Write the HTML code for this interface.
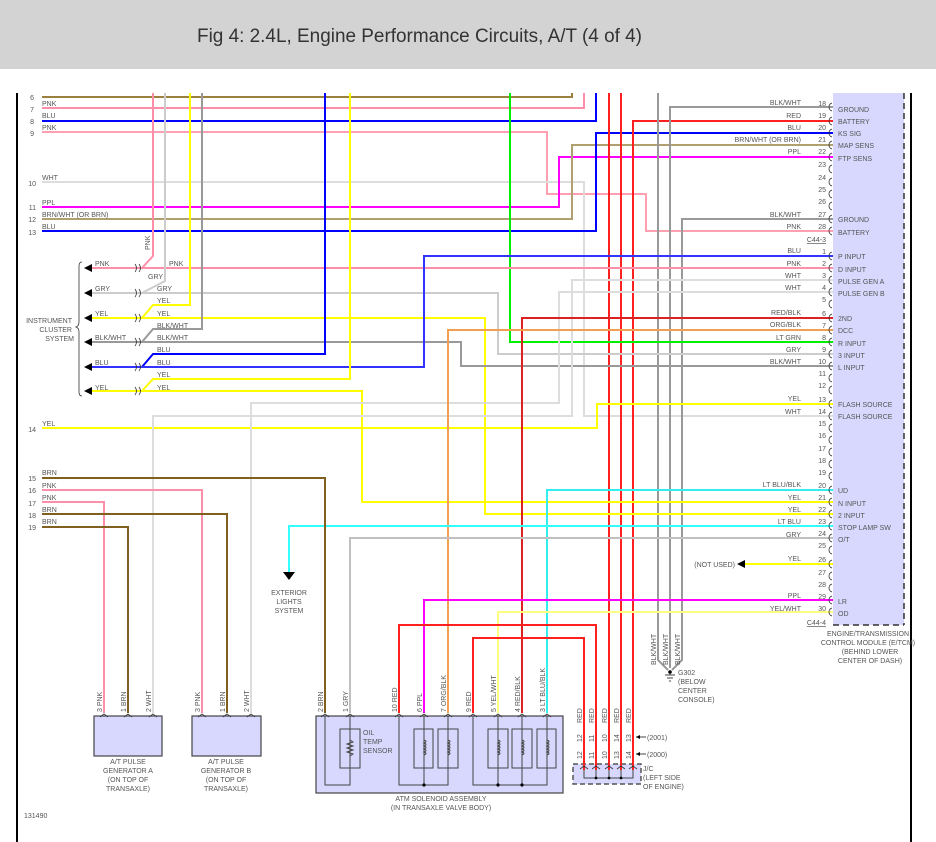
<!DOCTYPE html>
<html><head><meta charset="utf-8"><style>
html,body{margin:0;padding:0;background:#fff;}
svg{display:block;font-family:"Liberation Sans",sans-serif;}
.t{font-size:7px;fill:#555;}
.w{fill:none;stroke-width:2;}
</style></head><body>
<svg width="936" height="842" viewBox="0 0 936 842" xmlns="http://www.w3.org/2000/svg">
<rect x="0" y="0" width="936" height="69" fill="#d3d3d3"/>
<text x="197" y="42" font-size="19" fill="#333" textLength="445" lengthAdjust="spacingAndGlyphs">Fig 4: 2.4L, Engine Performance Circuits, A/T (4 of 4)</text>
<line x1="17" y1="93" x2="17" y2="842" stroke="#000" stroke-width="2"/>
<line x1="911" y1="93" x2="911" y2="842" stroke="#000" stroke-width="2"/>
<rect x="833" y="93" width="71" height="532" fill="#d8d8ff"/>
<line x1="904" y1="93" x2="904" y2="625" stroke="#333" stroke-width="1.5" stroke-dasharray="6,4"/>
<line x1="833" y1="625" x2="904" y2="625" stroke="#333" stroke-width="1.5" stroke-dasharray="6,4"/>
<rect x="316" y="716" width="247" height="77" fill="#d8d8ff" stroke="#444" stroke-width="1.2"/>
<rect x="94" y="716" width="68" height="40" fill="#d8d8ff" stroke="#444" stroke-width="1.2"/>
<rect x="192" y="716" width="69" height="40" fill="#d8d8ff" stroke="#444" stroke-width="1.2"/>
<rect x="573" y="764" width="68" height="20" fill="#d8d8ff" stroke="#555" stroke-width="1.5" stroke-dasharray="5,3"/>

<g class="w">
<polyline stroke="#9c8040" points="42,97 572,97 572,93"/>
<polyline stroke="#ff8fa8" points="42,108 584,108 584,93"/>
<polyline stroke="#0000ff" points="42,121 596,121 596,93"/>
<polyline stroke="#ff9fb0" points="42,132 547,132 547,194 646,194 646,231 833,231"/>
<polyline stroke="#dddddd" points="42,182 584,182 584,416 833,416"/>
<polyline stroke="#ff00ff" points="42,207 559,207 559,157 833,157"/>
<polyline stroke="#b0a070" points="42,219 572,219 572,145 833,145"/>
<polyline stroke="#0000ff" points="42,231 596,231 596,133 833,133"/>
<polyline stroke="#ff2020" points="633,770 633,121 833,121"/>
<polyline stroke="#ff2020" points="609,93 609,770"/>
<polyline stroke="#ff2020" points="621,93 621,770"/>
<polyline stroke="#999" points="658,93 658,660 668,670"/>
<polyline stroke="#999" points="833,107 670,107 670,668"/>
<polyline stroke="#999" points="833,219 682,219 682,660 672,670"/>
<polyline stroke="#00ee00" points="510,93 510,342 833,342"/>
<polyline stroke="#ff8fa8" points="153,93 153,256 142,268"/>
<polyline stroke="#ff8fa8" points="92,268 833,268"/>
<polyline stroke="#cccccc" points="165,93 165,281 142,293"/>
<polyline stroke="#cccccc" points="92,293 498,293 498,354 833,354"/>
<polyline stroke="#ffff00" points="190,93 190,305 153,305 142,318"/>
<polyline stroke="#ffff00" points="92,318 485,318 485,514 833,514"/>
<polyline stroke="#999" points="202,93 202,329 153,329 142,342"/>
<polyline stroke="#999" points="92,342 461,342 461,366 833,366"/>
<polyline stroke="#0000ff" points="325,93 325,354 153,354 142,367"/>
<polyline stroke="#3333ff" points="92,367 424,367 424,256 833,256"/>
<polyline stroke="#ffff00" points="350,93 350,379 153,379 142,391"/>
<polyline stroke="#ffff00" points="92,391 362,391 362,502 833,502"/>
<polyline stroke="#ffff00" points="42,428 597,428 597,404 833,404"/>
<polyline stroke="#dddddd" points="833,280 572,280 572,416 153,416 153,713"/>
<polyline stroke="#dddddd" points="833,292 559,292 559,403 251,403 251,713"/>
<polyline stroke="#dd2020" points="833,318 522,318 522,713"/>
<polyline stroke="#f0a050" points="833,330 448,330 448,713"/>
<polyline stroke="#33eeee" points="833,490 547,490 547,713"/>
<polyline stroke="#33ffff" points="833,526 289,526 289,572"/>
<polyline stroke="#c0c0c0" points="833,538 350,538 350,713"/>
<polyline stroke="#ffff00" points="833,564 745,564"/>
<polyline stroke="#ff00ff" points="833,600 424,600 424,713"/>
<polyline stroke="#ffff80" points="833,612 498,612 498,713"/>
<polyline stroke="#ff2020" points="399,713 399,625 596,625 596,770"/>
<polyline stroke="#ff2020" points="473,713 473,638 584,638 584,770"/>
<polyline stroke="#806020" points="42,478 325,478 325,713"/>
<polyline stroke="#ff8fa8" points="42,490 202,490 202,713"/>
<polyline stroke="#ff8fa8" points="42,502 104,502 104,713"/>
<polyline stroke="#806020" points="42,514 227,514 227,713"/>
<polyline stroke="#806020" points="42,527 128,527 128,713"/>
</g>
<g fill="#000">
<polygon points="283,572 295,572 289,580"/>
<polygon points="737,564 745,560 745,568"/>
<polygon points="84,268 92,264 92,272"/><polygon points="84,293 92,289 92,297"/><polygon points="84,318 92,314 92,322"/>
<polygon points="84,342 92,338 92,346"/><polygon points="84,367 92,363 92,371"/><polygon points="84,391 92,387 92,395"/>
</g>
<g fill="none" stroke="#333" stroke-width="0.8">
<path d="M135,264 q3,4 0,8 M139,264 q3,4 0,8 M135,289 q3,4 0,8 M139,289 q3,4 0,8 M135,314 q3,4 0,8 M139,314 q3,4 0,8 M135,338 q3,4 0,8 M139,338 q3,4 0,8 M135,363 q3,4 0,8 M139,363 q3,4 0,8 M135,387 q3,4 0,8 M139,387 q3,4 0,8"/>
<path d="M82,262 q-3,0 -3,4 v56 q0,4 -3,5 q3,1 3,5 v60 q0,4 3,4"/>
<path d="M832,103 q-3,1 -3,4 q0,3 3,4 M832,117 q-3,1 -3,4 q0,3 3,4 M832,129 q-3,1 -3,4 q0,3 3,4 M832,141 q-3,1 -3,4 q0,3 3,4 M832,153 q-3,1 -3,4 q0,3 3,4 M832,165 q-3,1 -3,4 q0,3 3,4 M832,178 q-3,1 -3,4 q0,3 3,4 M832,190 q-3,1 -3,4 q0,3 3,4 M832,202 q-3,1 -3,4 q0,3 3,4 M832,215 q-3,1 -3,4 q0,3 3,4 M832,227 q-3,1 -3,4 q0,3 3,4"/>
<path d="M832,252 q-3,1 -3,4 q0,3 3,4 M832,264 q-3,1 -3,4 q0,3 3,4 M832,276 q-3,1 -3,4 q0,3 3,4 M832,288 q-3,1 -3,4 q0,3 3,4 M832,300 q-3,1 -3,4 q0,3 3,4 M832,314 q-3,1 -3,4 q0,3 3,4 M832,326 q-3,1 -3,4 q0,3 3,4 M832,338 q-3,1 -3,4 q0,3 3,4 M832,350 q-3,1 -3,4 q0,3 3,4 M832,362 q-3,1 -3,4 q0,3 3,4 M832,374 q-3,1 -3,4 q0,3 3,4 M832,386 q-3,1 -3,4 q0,3 3,4 M832,400 q-3,1 -3,4 q0,3 3,4 M832,412 q-3,1 -3,4 q0,3 3,4 M832,424 q-3,1 -3,4 q0,3 3,4 M832,436 q-3,1 -3,4 q0,3 3,4 M832,448 q-3,1 -3,4 q0,3 3,4 M832,460 q-3,1 -3,4 q0,3 3,4 M832,472 q-3,1 -3,4 q0,3 3,4 M832,486 q-3,1 -3,4 q0,3 3,4 M832,498 q-3,1 -3,4 q0,3 3,4 M832,510 q-3,1 -3,4 q0,3 3,4 M832,522 q-3,1 -3,4 q0,3 3,4 M832,534 q-3,1 -3,4 q0,3 3,4 M832,546 q-3,1 -3,4 q0,3 3,4 M832,560 q-3,1 -3,4 q0,3 3,4 M832,572 q-3,1 -3,4 q0,3 3,4 M832,584 q-3,1 -3,4 q0,3 3,4 M832,596 q-3,1 -3,4 q0,3 3,4 M832,608 q-3,1 -3,4 q0,3 3,4"/>
<path d="M100,717 l4,-3 l4,3 M124,717 l4,-3 l4,3 M149,717 l4,-3 l4,3 M198,717 l4,-3 l4,3 M223,717 l4,-3 l4,3 M247,717 l4,-3 l4,3 M321,717 l4,-3 l4,3 M346,717 l4,-3 l4,3 M395,717 l4,-3 l4,3 M420,717 l4,-3 l4,3 M444,717 l4,-3 l4,3 M469,717 l4,-3 l4,3 M494,717 l4,-3 l4,3 M518,717 l4,-3 l4,3 M543,717 l4,-3 l4,3 M580,769 l4,-3 l4,3 M592,769 l4,-3 l4,3 M605,769 l4,-3 l4,3 M617,769 l4,-3 l4,3 M629,769 l4,-3 l4,3"/>
</g>
<g fill="none" stroke="#444" stroke-width="1">
<rect x="340" y="729" width="20" height="39"/>
<rect x="414" y="729" width="19" height="39"/><rect x="438" y="729" width="20" height="39"/>
<rect x="488" y="729" width="20" height="39"/><rect x="512" y="729" width="20" height="39"/><rect x="537" y="729" width="19" height="39"/>
<polyline points="325,716 325,785 350,785 350,716"/>
<polyline points="399,716 399,785 448,785 448,716"/>
<line x1="424" y1="716" x2="424" y2="785"/>
<polyline points="473,716 473,785 547,785 547,716"/>
<line x1="498" y1="716" x2="498" y2="785"/><line x1="522" y1="716" x2="522" y2="785"/>
<path d="M350,740 l3,2 l-6,2 l6,2 l-6,2 l6,2 l-6,2 l6,2 l-3,2"/>
<path d="M424,740 q4,1.5 0,3 q4,1.5 0,3 q4,1.5 0,3 q4,1.5 0,3 q4,1.5 0,3 M448,740 q4,1.5 0,3 q4,1.5 0,3 q4,1.5 0,3 q4,1.5 0,3 q4,1.5 0,3 M498,740 q4,1.5 0,3 q4,1.5 0,3 q4,1.5 0,3 q4,1.5 0,3 q4,1.5 0,3 M522,740 q4,1.5 0,3 q4,1.5 0,3 q4,1.5 0,3 q4,1.5 0,3 q4,1.5 0,3 M547,740 q4,1.5 0,3 q4,1.5 0,3 q4,1.5 0,3 q4,1.5 0,3 q4,1.5 0,3"/>
<polyline points="584,770 584,778 633,778 633,770"/>
<line x1="596" y1="770" x2="596" y2="778"/><line x1="609" y1="770" x2="609" y2="778"/><line x1="621" y1="770" x2="621" y2="778"/>
<path d="M665,675 h10 M667,678 h6 M669,681 h2"/>
<path d="M670,672 v3"/>
<path d="M636,737 h10 M636,754 h10"/>
</g>
<g fill="#000"><circle cx="424" cy="785" r="1.6"/><circle cx="498" cy="785" r="1.6"/><circle cx="522" cy="785" r="1.6"/><circle cx="596" cy="778" r="1.4"/><circle cx="609" cy="778" r="1.4"/><circle cx="621" cy="778" r="1.4"/><circle cx="670" cy="672" r="1.8"/>
<polygon points="636,737 640,735 640,739"/><polygon points="636,754 640,752 640,756"/></g>

<g class="t">
<text x="34" y="100" text-anchor="end">6</text><text x="34" y="112" text-anchor="end">7</text><text x="34" y="124" text-anchor="end">8</text><text x="34" y="136" text-anchor="end">9</text><text x="36" y="186" text-anchor="end">10</text><text x="36" y="210" text-anchor="end">11</text><text x="36" y="222" text-anchor="end">12</text><text x="36" y="235" text-anchor="end">13</text><text x="36" y="432" text-anchor="end">14</text><text x="36" y="481" text-anchor="end">15</text><text x="36" y="493" text-anchor="end">16</text><text x="36" y="506" text-anchor="end">17</text><text x="36" y="518" text-anchor="end">18</text><text x="36" y="530" text-anchor="end">19</text>
<text x="42" y="106">PNK</text><text x="42" y="118">BLU</text><text x="42" y="130">PNK</text><text x="42" y="180">WHT</text><text x="42" y="205">PPL</text><text x="42" y="217">BRN/WHT (OR BRN)</text><text x="42" y="229">BLU</text><text x="42" y="426">YEL</text>
<text x="42" y="475">BRN</text><text x="42" y="488">PNK</text><text x="42" y="500">PNK</text><text x="42" y="512">BRN</text><text x="42" y="524">BRN</text>
<text x="95" y="266">PNK</text><text x="95" y="291">GRY</text><text x="95" y="316">YEL</text><text x="95" y="340">BLK/WHT</text><text x="95" y="365">BLU</text><text x="95" y="390">YEL</text>
<text x="169" y="266">PNK</text><text x="148" y="279">GRY</text><text x="157" y="291">GRY</text><text x="157" y="303">YEL</text><text x="157" y="316">YEL</text><text x="157" y="328">BLK/WHT</text><text x="157" y="340">BLK/WHT</text><text x="157" y="352">BLU</text><text x="157" y="365">BLU</text><text x="157" y="377">YEL</text><text x="157" y="390">YEL</text>
<text transform="translate(150,250) rotate(-90)">PNK</text>
<text x="72" y="323" text-anchor="end">INSTRUMENT</text><text x="72" y="332" text-anchor="end">CLUSTER</text><text x="74" y="341" text-anchor="end">SYSTEM</text>
<text x="289" y="595" text-anchor="middle">EXTERIOR</text><text x="289" y="604" text-anchor="middle">LIGHTS</text><text x="289" y="613" text-anchor="middle">SYSTEM</text>
<text x="128" y="764" text-anchor="middle">A/T PULSE</text><text x="128" y="773" text-anchor="middle">GENERATOR A</text><text x="128" y="782" text-anchor="middle">(ON TOP OF</text><text x="128" y="791" text-anchor="middle">TRANSAXLE)</text>
<text x="226" y="764" text-anchor="middle">A/T PULSE</text><text x="226" y="773" text-anchor="middle">GENERATOR B</text><text x="226" y="782" text-anchor="middle">(ON TOP OF</text><text x="226" y="791" text-anchor="middle">TRANSAXLE)</text>
<text x="441" y="801" text-anchor="middle">ATM SOLENOID ASSEMBLY</text><text x="441" y="810" text-anchor="middle">(IN TRANSAXLE VALVE BODY)</text>
<text x="363" y="735">OIL</text><text x="363" y="744">TEMP</text><text x="363" y="753">SENSOR</text>
<text x="24" y="818">131490</text>
<text x="647" y="740">(2001)</text><text x="647" y="757">(2000)</text>
<text x="643" y="771">J/C</text><text x="643" y="780">(LEFT SIDE</text><text x="643" y="789">OF ENGINE)</text>
<text x="678" y="675">G302</text><text x="678" y="684">(BELOW</text><text x="678" y="693">CENTER</text><text x="678" y="702">CONSOLE)</text>
<text x="735" y="567" text-anchor="end">(NOT USED)</text>
<text x="868" y="636" text-anchor="middle">ENGINE/TRANSMISSION</text><text x="868" y="645" text-anchor="middle">CONTROL MODULE (E/TCM)</text><text x="870" y="654" text-anchor="middle">(BEHIND LOWER</text><text x="870" y="663" text-anchor="middle">CENTER OF DASH)</text>
<text x="826" y="242" text-anchor="end" text-decoration="underline">C44-3</text><text x="826" y="625" text-anchor="end" text-decoration="underline">C44-4</text>
</g>
<g class="t">
<text transform="translate(102,712) rotate(-90)">3  PNK</text><text transform="translate(126,712) rotate(-90)">1  BRN</text><text transform="translate(151,712) rotate(-90)">2  WHT</text>
<text transform="translate(200,712) rotate(-90)">3  PNK</text><text transform="translate(225,712) rotate(-90)">1  BRN</text><text transform="translate(249,712) rotate(-90)">2  WHT</text>
<text transform="translate(323,712) rotate(-90)">2  BRN</text><text transform="translate(348,712) rotate(-90)">1  GRY</text>
<text transform="translate(397,712) rotate(-90)">10   RED</text><text transform="translate(422,712) rotate(-90)">6  PPL</text><text transform="translate(446,712) rotate(-90)">7   ORG/BLK</text>
<text transform="translate(471,712) rotate(-90)">9  RED</text><text transform="translate(496,712) rotate(-90)">5  YEL/WHT</text><text transform="translate(520,712) rotate(-90)">4  RED/BLK</text><text transform="translate(545,712) rotate(-90)">3  LT BLU/BLK</text>
<text transform="translate(582,723) rotate(-90)">RED</text><text transform="translate(594,723) rotate(-90)">RED</text><text transform="translate(607,723) rotate(-90)">RED</text><text transform="translate(619,723) rotate(-90)">RED</text><text transform="translate(631,723) rotate(-90)">RED</text>
<text transform="translate(582,742) rotate(-90)">12</text><text transform="translate(594,742) rotate(-90)">11</text><text transform="translate(607,742) rotate(-90)">10</text><text transform="translate(619,742) rotate(-90)">14</text><text transform="translate(631,742) rotate(-90)">13</text>
<text transform="translate(582,759) rotate(-90)">12</text><text transform="translate(594,759) rotate(-90)">11</text><text transform="translate(607,759) rotate(-90)">10</text><text transform="translate(619,759) rotate(-90)">13</text><text transform="translate(631,759) rotate(-90)">14</text>
<text transform="translate(656,665) rotate(-90)">BLK/WHT</text><text transform="translate(668,665) rotate(-90)">BLK/WHT</text><text transform="translate(680,665) rotate(-90)">BLK/WHT</text>
</g>
<g class="t" text-anchor="end">
<text x="826" y="106">18</text><text x="826" y="118">19</text><text x="826" y="130">20</text><text x="826" y="142">21</text><text x="826" y="154">22</text><text x="826" y="167">23</text><text x="826" y="180">24</text><text x="826" y="192">25</text><text x="826" y="204">26</text><text x="826" y="217">27</text><text x="826" y="229">28</text>
<text x="826" y="254">1</text><text x="826" y="266">2</text><text x="826" y="278">3</text><text x="826" y="290">4</text><text x="826" y="302">5</text><text x="826" y="316">6</text><text x="826" y="328">7</text><text x="826" y="340">8</text><text x="826" y="352">9</text><text x="826" y="364">10</text><text x="826" y="376">11</text><text x="826" y="388">12</text><text x="826" y="402">13</text><text x="826" y="414">14</text><text x="826" y="426">15</text><text x="826" y="438">16</text><text x="826" y="451">17</text><text x="826" y="463">18</text><text x="826" y="475">19</text><text x="826" y="488">20</text><text x="826" y="500">21</text><text x="826" y="512">22</text><text x="826" y="524">23</text><text x="826" y="536">24</text><text x="826" y="548">25</text><text x="826" y="562">26</text><text x="826" y="575">27</text><text x="826" y="587">28</text><text x="826" y="599">29</text><text x="826" y="611">30</text>
<text x="801" y="105">BLK/WHT</text><text x="801" y="118">RED</text><text x="801" y="130">BLU</text><text x="801" y="142">BRN/WHT (OR BRN)</text><text x="801" y="154">PPL</text><text x="801" y="217">BLK/WHT</text><text x="801" y="229">PNK</text>
<text x="801" y="253">BLU</text><text x="801" y="266">PNK</text><text x="801" y="278">WHT</text><text x="801" y="290">WHT</text><text x="801" y="315">RED/BLK</text><text x="801" y="327">ORG/BLK</text><text x="801" y="340">LT GRN</text><text x="801" y="352">GRY</text><text x="801" y="364">BLK/WHT</text><text x="801" y="401">YEL</text><text x="801" y="414">WHT</text>
<text x="801" y="487">LT BLU/BLK</text><text x="801" y="500">YEL</text><text x="801" y="512">YEL</text><text x="801" y="524">LT BLU</text><text x="801" y="537">GRY</text><text x="801" y="561">YEL</text><text x="801" y="598">PPL</text><text x="801" y="611">YEL/WHT</text>
</g>
<g class="t">
<text x="838" y="112">GROUND</text><text x="838" y="124">BATTERY</text><text x="838" y="136">KS SIG</text><text x="838" y="148">MAP SENS</text><text x="838" y="161">FTP SENS</text><text x="838" y="222">GROUND</text><text x="838" y="235">BATTERY</text>
<text x="838" y="259">P INPUT</text><text x="838" y="272">D INPUT</text><text x="838" y="284">PULSE GEN A</text><text x="838" y="296">PULSE GEN B</text><text x="838" y="321">2ND</text><text x="838" y="333">DCC</text><text x="838" y="346">R INPUT</text><text x="838" y="358">3 INPUT</text><text x="838" y="370">L INPUT</text><text x="838" y="407">FLASH SOURCE</text><text x="838" y="419">FLASH SOURCE</text>
<text x="838" y="493">UD</text><text x="838" y="506">N INPUT</text><text x="838" y="518">2 INPUT</text><text x="838" y="530">STOP LAMP SW</text><text x="838" y="542">O/T</text><text x="838" y="604">LR</text><text x="838" y="616">OD</text>
</g>
</svg>
</body></html>
